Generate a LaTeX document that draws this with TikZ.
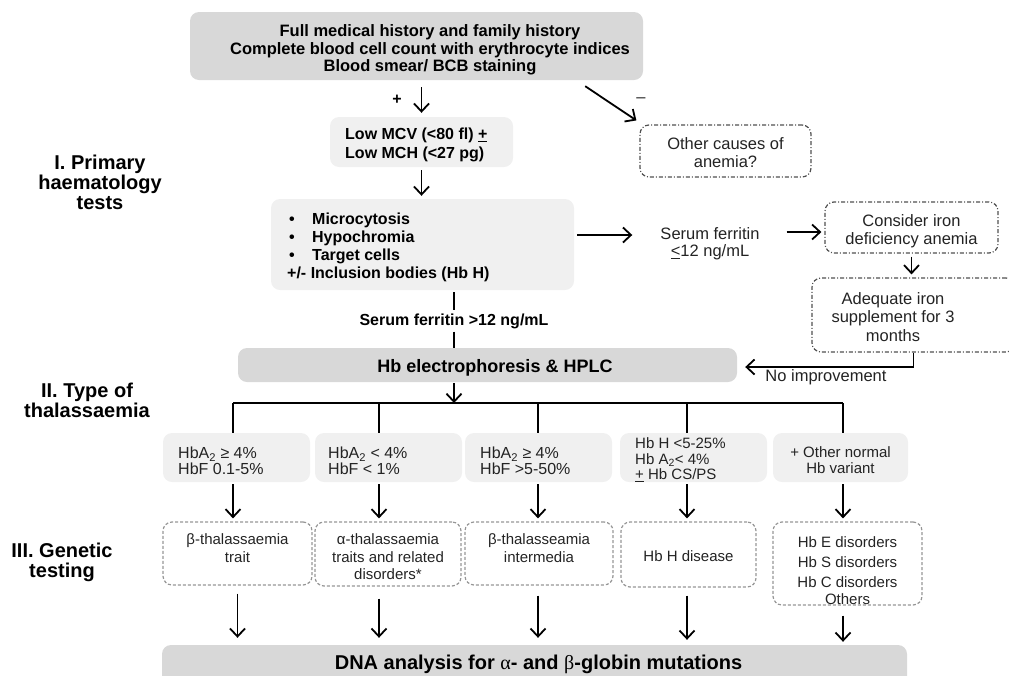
\documentclass[tikz,border=0pt]{standalone}
\usepackage{fontspec}
\setmainfont{Liberation Sans}
\newfontfamily\serifgreek{Liberation Serif}
\usetikzlibrary{arrows.meta,calc}
\definecolor{boxdark}{RGB}{216,216,216}
\definecolor{boxlight}{RGB}{240,240,240}
\definecolor{dashgray}{RGB}{150,150,150}
\definecolor{ddgray}{RGB}{80,80,80}
\definecolor{txtgray}{RGB}{35,35,35}
\newcommand\fsz[2]{\fontsize{#1}{#2}\selectfont}
\begin{document}
\begin{tikzpicture}[x=1pt,y=-1pt,
  ln/.style={line width=1.8pt},
  arr/.style={line width=1.8pt,-{Straight Barb[length=8pt,width=15pt,line width=1.8pt]}},
  darkbox/.style={fill=boxdark,rounded corners=9pt,inner sep=0pt},
  lightbox/.style={fill=boxlight,rounded corners=9pt,inner sep=0pt},
  dashbox/.style={draw=dashgray,line width=1.2pt,dash pattern=on 3pt off 2pt,rounded corners=9pt,inner sep=0pt,align=center,text=txtgray,font=\fsz{15}{17.5}},
  ddbox/.style={draw=ddgray,line width=1.2pt,dash pattern=on 4pt off 2pt on 1pt off 2pt,rounded corners=9pt,inner sep=0pt,align=center,text=txtgray,font=\fsz{16.5}{18.5}},
  btxt/.style={inner sep=0pt,align=center,font=\bfseries\fsz{16}{18}},
  rtxt/.style={inner sep=0pt,align=center,text=txtgray,font=\fsz{16.5}{18}},
  gtxt/.style={inner sep=0pt,align=center,text=txtgray,font=\fsz{15}{17.5}},
  stxt/.style={inner sep=0pt,align=left,text=txtgray,font=\fsz{16}{16}},
  sec/.style={inner sep=0pt,align=center,font=\bfseries\fsz{20}{20}},
]
\clip (0,0) rectangle (1009,675);

% section labels
\node[sec] (L1) at (100,182) {I. Primary\\haematology\\tests};
\node[sec] (L2) at (87,400) {II. Type of\\thalassaemia};
\node[sec] (L3) at (62,562) {III. Genetic\\testing};

% top box
\node[darkbox,minimum width=453pt,minimum height=68pt] (top) at (416.5,46) {};
\node[btxt,font=\bfseries\fsz{16.5}{17.5}] (toptxt) at (430,50) {Full medical history and family history\\Complete blood cell count with erythrocyte indices\\Blood smear/ BCB staining};
\node[btxt] (plus) at (397,100) {+};
\node[rtxt] (minus) at (641,100) {--};

% Low MCV
\node[lightbox,minimum width=183pt,minimum height=50pt] (mcv) at (421.5,142) {};
\node[btxt,align=left,anchor=west,font=\bfseries\fsz{16}{19}] (mcvtxt) at (345,145) {Low MCV (<80 fl) \underline{+}\\Low MCH (<27 pg)};

% other causes
\node[ddbox,minimum width=171pt,minimum height=52pt] (other) at (725.5,151) {};
\node[rtxt,font=\fsz{16.5}{18}] (othertxt) at (725.5,153) {Other causes of\\anemia?};

% microcytosis
\node[lightbox,minimum width=303pt,minimum height=91pt] (micro) at (422.5,244.5) {};
\node[btxt,align=left,anchor=west] (microtxt) at (287,247) {\hspace*{2pt}\makebox[23pt][l]{•}Microcytosis\\\hspace*{2pt}\makebox[23pt][l]{•}Hypochromia\\\hspace*{2pt}\makebox[23pt][l]{•}Target cells\\+/- Inclusion bodies (Hb H)};

% serum ferritin <= 12
\node[rtxt,font=\fsz{16.5}{17}] (serumle) at (710,244) {Serum ferritin\\\underline{<}12 ng/mL};
\node[ddbox,minimum width=173pt,minimum height=51pt] (consider) at (911.5,227.5) {};
\node[rtxt,font=\fsz{16.5}{18}] (considertxt) at (911.5,231) {Consider iron\\deficiency anemia};
\node[ddbox,minimum width=203pt,minimum height=74pt] (adequate) at (913.5,315) {};
\node[rtxt,font=\fsz{16.5}{18.5}] (adeqtxt) at (893,317) {Adequate iron\\supplement for 3\\months};
\node[rtxt] (noimp) at (826,377) {No improvement};

% serum ferritin > 12
\node[btxt] (serumgt) at (454,321) {Serum ferritin >12 ng/mL};

% Hb electrophoresis
\node[darkbox,minimum width=499pt,minimum height=34pt] (hbe) at (487.5,365) {};
\node[btxt,font=\bfseries\fsz{18}{20}] (hbetxt) at (495,368) {Hb electrophoresis \& HPLC};

% column coordinates
\coordinate (b1) at (233,403);
\coordinate (b2) at (379,403);
\coordinate (b3) at (538,403);
\coordinate (b4) at (687,403);
\coordinate (b5) at (843,403);
\coordinate (bm) at (454,403);

% stat boxes
\node[lightbox,minimum width=147pt,minimum height=49pt] (s1) at (236.5,457.5) {};
\node[lightbox,minimum width=147pt,minimum height=49pt] (s2) at (388.5,457.5) {};
\node[lightbox,minimum width=147pt,minimum height=49pt] (s3) at (538.5,457.5) {};
\node[lightbox,minimum width=147pt,minimum height=49pt] (s4) at (693.5,457.5) {};
\node[lightbox,minimum width=135pt,minimum height=49pt] (s5) at (840.5,457.5) {};
\node[stxt,anchor=west] (s1t) at (178,461) {HbA\textsubscript{2} ≥ 4\%\\HbF 0.1-5\%};
\node[stxt,anchor=west] (s2t) at (328,461) {HbA\textsubscript{2} < 4\%\\HbF < 1\%};
\node[stxt,anchor=west] (s3t) at (480,461) {HbA\textsubscript{2} ≥ 4\%\\HbF >5-50\%};
\node[stxt,anchor=west,font=\fsz{15}{15.5}] (s4t) at (635,460) {Hb H <5-25\%\\Hb A\textsubscript{2}< 4\%\\\underline{+} Hb CS/PS};
\node[stxt,align=center,font=\fsz{15}{16}] (s5t) at (840.5,460) {+ Other normal\\Hb variant};

% genetic boxes
\node[dashbox,minimum width=149pt,minimum height=63pt] (g1) at (237.5,553.5) {};
\node[gtxt] (g1t) at (237.5,548) {β-thalassaemia\\trait};
\node[dashbox,minimum width=146pt,minimum height=64pt] (g2) at (388,554) {};
\node[gtxt] (g2t) at (388,557) {α-thalassaemia\\traits and related\\disorders*};
\node[dashbox,minimum width=148pt,minimum height=63pt] (g3) at (539,553.5) {};
\node[gtxt] (g3t) at (539,548) {β-thalasseamia\\intermedia};
\node[dashbox,minimum width=135pt,minimum height=65pt] (g4) at (688.5,554.5) {};
\node[gtxt] (g4t) at (688.5,556) {Hb H disease};
\node[dashbox,minimum width=149pt,minimum height=83pt] (g5) at (847.5,563.5) {};
\node[gtxt,font=\fsz{15}{20}] (g5t) at (847.5,571) {Hb E disorders\\Hb S disorders\\Hb C disorders\\[-3pt]Others};

% DNA box
\node[darkbox,minimum width=745pt,minimum height=45pt] (dna) at (534.5,667.5) {};
\node[btxt,font=\bfseries\fsz{20}{22}] (dnatxt) at (538.5,664) {DNA analysis for {\serifgreek\mdseries α}- and {\serifgreek\mdseries β}-globin mutations};

% connectors
\draw[arr,shorten <=7pt,shorten >=4pt] (top.south -| mcv) -- (mcv.north);
\draw[arr] ($(top.south east)+(-58,6)$) -- ($(other.north west)+(-3,-4)$);
\draw[arr,shorten <=3pt,shorten >=3pt] (mcv.south) -- (micro.north -| mcv);
\draw[arr] ($(micro.east)+(3,-9.5)$) -- ($(serumle.west)+(-28,-9)$);
\draw[arr] ($(serumle.east)+(27,-12)$) -- ($(consider.west)+(-3,4.5)$);
\draw[arr,shorten <=3pt,shorten >=3pt] (consider.south) -- (consider.south |- adequate.north);
\draw[arr] (adequate.south) |- ($(hbe.east)+(8,2)$);
\draw[ln,shorten <=2pt,shorten >=3pt] (micro.south -| serumgt) -- (serumgt.north);
\draw[ln,shorten <=3pt] (serumgt.south) -- (hbe.north -| serumgt);
\draw[arr,shorten <=1pt] (hbe.south -| bm) -- (bm);
\draw[ln] (b1) -- (b5);
\foreach \i in {1,...,5} {
  \draw[ln] (b\i) -- (b\i |- s\i.north);
  \draw[arr,shorten <=2pt,shorten >=3pt] (s\i.south -| b\i) -- (g\i.north -| b\i);
}
\draw[arr,shorten <=8pt,shorten >=7pt] (g1.south) -- (g1.south |- dna.north);
\draw[arr,shorten <=12pt,shorten >=7pt] (b2 |- g2.south) -- (b2 |- dna.north);
\draw[arr,shorten <=10pt,shorten >=7pt] (b3 |- g3.south) -- (b3 |- dna.north);
\draw[arr,shorten <=8pt,shorten >=5pt] (b4 |- g4.south) -- (b4 |- dna.north);
\draw[arr,shorten <=10pt,shorten >=3pt] (b5 |- g5.south) -- (b5 |- dna.north);
\end{tikzpicture}
\end{document}
